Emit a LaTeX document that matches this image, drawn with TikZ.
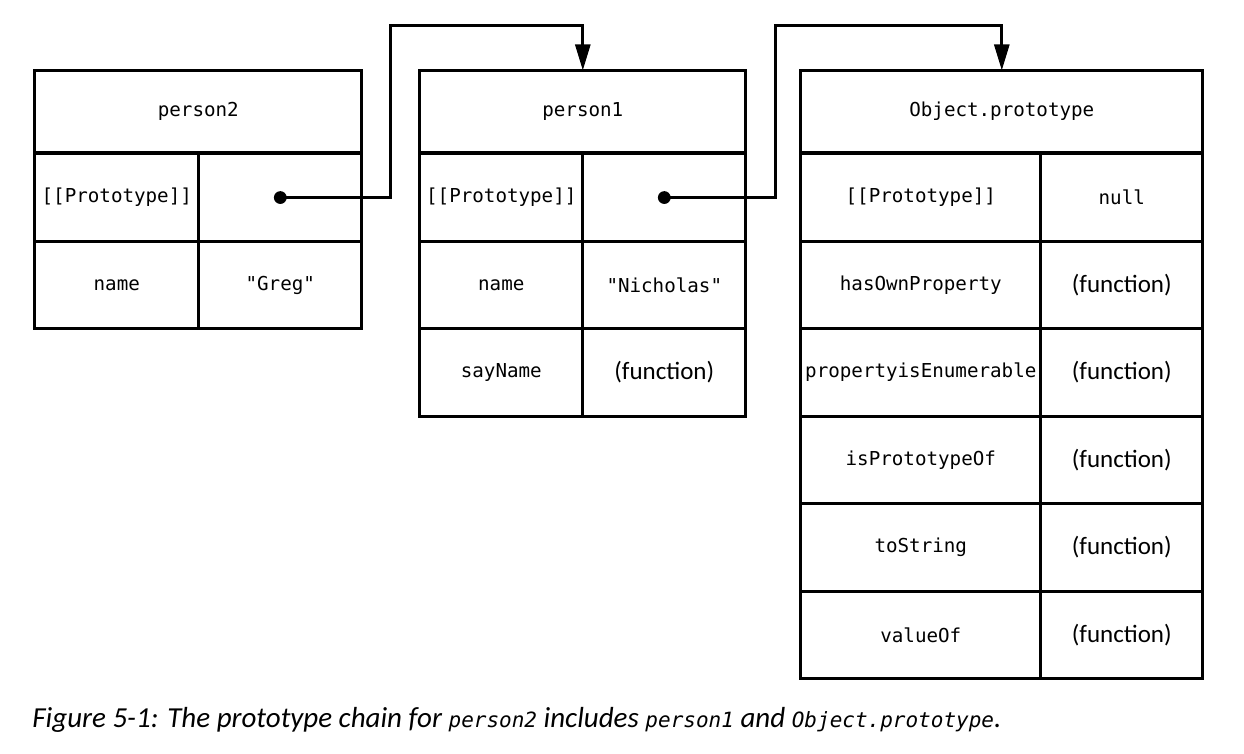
\documentclass[tikz,border=0pt]{standalone}
\usepackage{fontspec}
\setmainfont{Carlito}
\newfontfamily\codefont{DejaVu Sans Mono}
\usetikzlibrary{matrix,positioning,arrows.meta}

\begin{document}
\begin{tikzpicture}[x=0.5pt,y=-0.5pt,
    line width=1.4pt,
    cellfont/.style={font=\codefont\fontsize{9.6pt}{11pt}\selectfont},
    fnfont/.style={font=\fontsize{12.5pt}{14pt}\selectfont},
    objbox/.style={matrix of nodes,
        anchor=north west,
        inner sep=0pt,
        column sep=-1.4pt,
        row sep=-1.4pt,
        nodes={draw,outer sep=0pt,inner sep=0pt,minimum height=43.75pt,
        anchor=center,cellfont}},
    headbox/.style={draw,outer sep=0pt,inner sep=0pt,minimum height=41pt,
        cellfont},
    link/.style={-{Triangle[length=13pt,width=7.5pt]}}]
    \useasboundingbox (0,0) rectangle (1244,754);

    % person2
    \matrix (P2) at (32,151) [objbox,
        column 1/.style={minimum width=82pt},
        column 2/.style={minimum width=81.5pt}]{
            {[[Prototype]]} & \mbox{} \\
            name & "Greg" \\
        };
    \node (H2) [headbox,minimum width=163.5pt,above=-0.7pt of P2] {person2};

    % person1
    \matrix (P1) at (417,151) [objbox,
        column 1/.style={minimum width=81.5pt},
        column 2/.style={minimum width=81.5pt}]{
            {[[Prototype]]} & \mbox{} \\
            name & "Nicholas" \\
            sayName & |[fnfont]| (function) \\
        };
    \node (H1) [headbox,minimum width=163pt,above=-0.7pt of P1] {person1};

    % Object.prototype
    \matrix (OP) at (798,151) [objbox,
        column 1/.style={minimum width=120pt},
        column 2/.style={minimum width=81pt}]{
            {[[Prototype]]} & null \\
            hasOwnProperty & |[fnfont]| (function) \\
            propertyisEnumerable & |[fnfont]| (function) \\
            isPrototypeOf & |[fnfont]| (function) \\
            toString & |[fnfont]| (function) \\
            valueOf & |[fnfont]| (function) \\
        };
    \node (H3) [headbox,minimum width=201pt,above=-0.7pt of OP] {Object.prototype};

    % prototype links
    \fill (P2-1-2.center) circle (3.2pt);
    \draw[link] (P2-1-2.center) -- ++(110,0) -- ++(0,-172) -| (H1.north);
    \fill (P1-1-2.center) circle (3.2pt);
    \draw[link] (P1-1-2.center) -- ++(111,0) -- ++(0,-172) -| (H3.north);

    \node (cap) [anchor=west,inner sep=0pt,
        font=\itshape\fontsize{14.5pt}{16pt}\selectfont] at (31,720)
        {Figure 5-1: The prototype chain for
        {\codefont\fontsize{10.5pt}{12pt}\selectfont person2} includes
        {\codefont\fontsize{10.5pt}{12pt}\selectfont person1} and
        {\codefont\fontsize{10.5pt}{12pt}\selectfont Object.prototype}.};
\end{tikzpicture}
\end{document}
